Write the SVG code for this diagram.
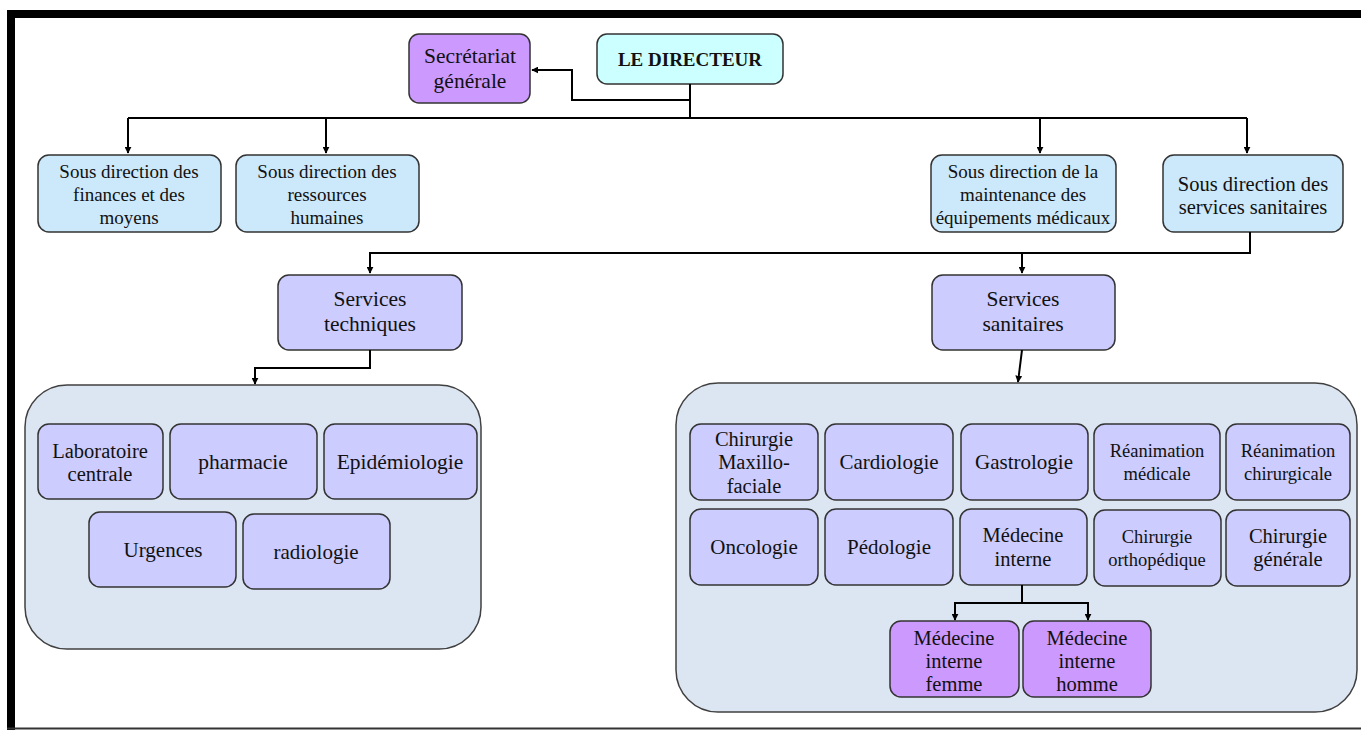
<svg xmlns="http://www.w3.org/2000/svg" width="1361" height="730" viewBox="0 0 1361 730">
<defs>
<marker id="ah" viewBox="0 0 10 10" refX="9" refY="5" markerWidth="7" markerHeight="7" markerUnits="userSpaceOnUse" orient="auto">
<path d="M0,0 L10,5 L0,10 z" fill="#000"/>
</marker>
<style>
.box{stroke:#333;stroke-width:1.5}
.dir{fill:#CCFFFF}
.sd{fill:#CCE8FB}
.sv{fill:#CCCCFF}
.pu{fill:#CC99FF}
.ct{fill:#DCE6F2;stroke:#404040;stroke-width:1.5}
text{font-family:"Liberation Serif","Times New Roman",serif;font-size:19px;fill:#111;text-anchor:middle}
.b{font-weight:bold}
.s{font-size:18.5px}
.m{font-size:20.5px}
.l{font-size:21px}
.xl{font-size:21.5px}
.con{fill:none;stroke:#000;stroke-width:2}
</style>
</defs>
<rect x="0" y="0" width="1361" height="730" fill="#fff"/>
<rect x="7" y="10" width="1354" height="8" fill="#000"/>
<rect x="7" y="10" width="8" height="720" fill="#000"/>
<line x1="7" y1="728.5" x2="1361" y2="728.5" stroke="#333" stroke-width="2"/>

<g id="directeur"><rect class="box dir" x="597" y="34" width="186" height="50" rx="10"/><text class="b" x="690" y="66">LE DIRECTEUR</text></g>
<g id="secretariat"><rect class="box pu" x="409" y="34" width="121" height="69" rx="10"/><text class="xl" x="470" y="63">Secrétariat</text><text class="xl" x="470" y="88">générale</text></g>

<g id="sd-finances"><rect class="box sd" x="38" y="155" width="183" height="77" rx="11"/><text x="129" y="178">Sous direction des</text><text x="129" y="201">finances et des</text><text x="129" y="224">moyens</text></g>
<g id="sd-rh"><rect class="box sd" x="236" y="155" width="183" height="77" rx="11"/><text x="327" y="178">Sous direction des</text><text x="327" y="201">ressources</text><text x="327" y="224">humaines</text></g>
<g id="sd-maintenance"><rect class="box sd" x="931" y="155" width="185" height="77" rx="11"/><text x="1023" y="178">Sous direction de la</text><text x="1023" y="201">maintenance des</text><text x="1023" y="224">équipements médicaux</text></g>
<g id="sd-sanitaires"><rect class="box sd" x="1163" y="155" width="180" height="77" rx="11"/><text class="m" x="1253" y="191">Sous direction des</text><text class="m" x="1253" y="214">services sanitaires</text></g>

<g id="services-techniques"><rect class="box sv" x="278" y="275" width="184" height="75" rx="11"/><text class="xl" x="370" y="306">Services</text><text class="xl" x="370" y="331">techniques</text></g>
<g id="services-sanitaires"><rect class="box sv" x="932" y="275" width="183" height="75" rx="11"/><text class="xl" x="1023" y="306">Services</text><text class="xl" x="1023" y="331">sanitaires</text></g>

<g id="groupe-techniques">
<rect class="ct" x="25" y="385" width="456" height="264" rx="42"/>
<g id="laboratoire"><rect class="box sv" x="38" y="424" width="125" height="75" rx="11"/><text class="m" x="100" y="458">Laboratoire</text><text class="m" x="100" y="481">centrale</text></g>
<g id="pharmacie"><rect class="box sv" x="170" y="424" width="147" height="75" rx="11"/><text class="xl" x="243" y="469">pharmacie</text></g>
<g id="epidemiologie"><rect class="box sv" x="324" y="424" width="153" height="75" rx="11"/><text class="xl" x="400" y="469">Epidémiologie</text></g>
<g id="urgences"><rect class="box sv" x="89" y="512" width="147" height="75" rx="11"/><text class="l" x="163" y="557">Urgences</text></g>
<g id="radiologie"><rect class="box sv" x="243" y="514" width="147" height="75" rx="11"/><text class="l" x="316" y="559">radiologie</text></g>
</g>

<g id="groupe-sanitaires">
<rect class="ct" x="676" y="383" width="681" height="329" rx="42"/>
<g id="chir-maxillo"><rect class="box sv" x="690" y="424" width="128" height="76" rx="11"/><text class="m" x="754" y="446">Chirurgie</text><text class="m" x="754" y="469">Maxillo-</text><text class="m" x="754" y="493">faciale</text></g>
<g id="cardiologie"><rect class="box sv" x="825" y="424" width="128" height="76" rx="11"/><text class="l" x="889" y="469">Cardiologie</text></g>
<g id="gastrologie"><rect class="box sv" x="961" y="424" width="127" height="76" rx="11"/><text class="l" x="1024" y="469">Gastrologie</text></g>
<g id="rea-medicale"><rect class="box sv" x="1094" y="424" width="126" height="76" rx="11"/><text class="s" x="1157" y="457">Réanimation</text><text class="s" x="1157" y="480">médicale</text></g>
<g id="rea-chirurgicale"><rect class="box sv" x="1226" y="424" width="124" height="76" rx="11"/><text class="s" x="1288" y="457">Réanimation</text><text class="s" x="1288" y="480">chirurgicale</text></g>
<g id="oncologie"><rect class="box sv" x="690" y="509" width="128" height="76" rx="11"/><text class="l" x="754" y="554">Oncologie</text></g>
<g id="pedologie"><rect class="box sv" x="825" y="509" width="128" height="76" rx="11"/><text class="l" x="889" y="554">Pédologie</text></g>
<g id="medecine-interne"><rect class="box sv" x="960" y="509" width="127" height="76" rx="11"/><text class="m" x="1023" y="542">Médecine</text><text class="m" x="1023" y="566">interne</text></g>
<g id="chir-ortho"><rect class="box sv" x="1094" y="510" width="127" height="76" rx="11"/><text class="s" x="1157" y="543">Chirurgie</text><text class="s" x="1157" y="566">orthopédique</text></g>
<g id="chir-generale"><rect class="box sv" x="1226" y="510" width="124" height="76" rx="11"/><text class="m" x="1288" y="543">Chirurgie</text><text class="m" x="1288" y="566">générale</text></g>
<g id="mi-femme"><rect class="box pu" x="890" y="621" width="129" height="76" rx="11"/><text class="m" x="954" y="645">Médecine</text><text class="m" x="954" y="668">interne</text><text class="m" x="954" y="691">femme</text></g>
<g id="mi-homme"><rect class="box pu" x="1023" y="621" width="128" height="76" rx="11"/><text class="m" x="1087" y="645">Médecine</text><text class="m" x="1087" y="668">interne</text><text class="m" x="1087" y="691">homme</text></g>
</g>

<g id="connectors">
<path class="con" d="M690,84 V118"/>
<path class="con" d="M690,100 H572 V70 H532" marker-end="url(#ah)"/>
<path class="con" d="M128,118 H1247"/>
<path class="con" d="M128,118 V153" marker-end="url(#ah)"/>
<path class="con" d="M326,118 V153" marker-end="url(#ah)"/>
<path class="con" d="M1040,118 V153" marker-end="url(#ah)"/>
<path class="con" d="M1247,118 V153" marker-end="url(#ah)"/>
<path class="con" d="M1250,232 V253 H370 V273" marker-end="url(#ah)"/>
<path class="con" d="M1022,253 V273" marker-end="url(#ah)"/>
<path class="con" d="M370,350 V368 H255 V384" marker-end="url(#ah)"/>
<path class="con" d="M1022,350 L1018,382" marker-end="url(#ah)"/>
<path class="con" d="M1022,585 V603 H955 V620" marker-end="url(#ah)"/>
<path class="con" d="M1022,603 H1088 V620" marker-end="url(#ah)"/>
</g>
</svg>
